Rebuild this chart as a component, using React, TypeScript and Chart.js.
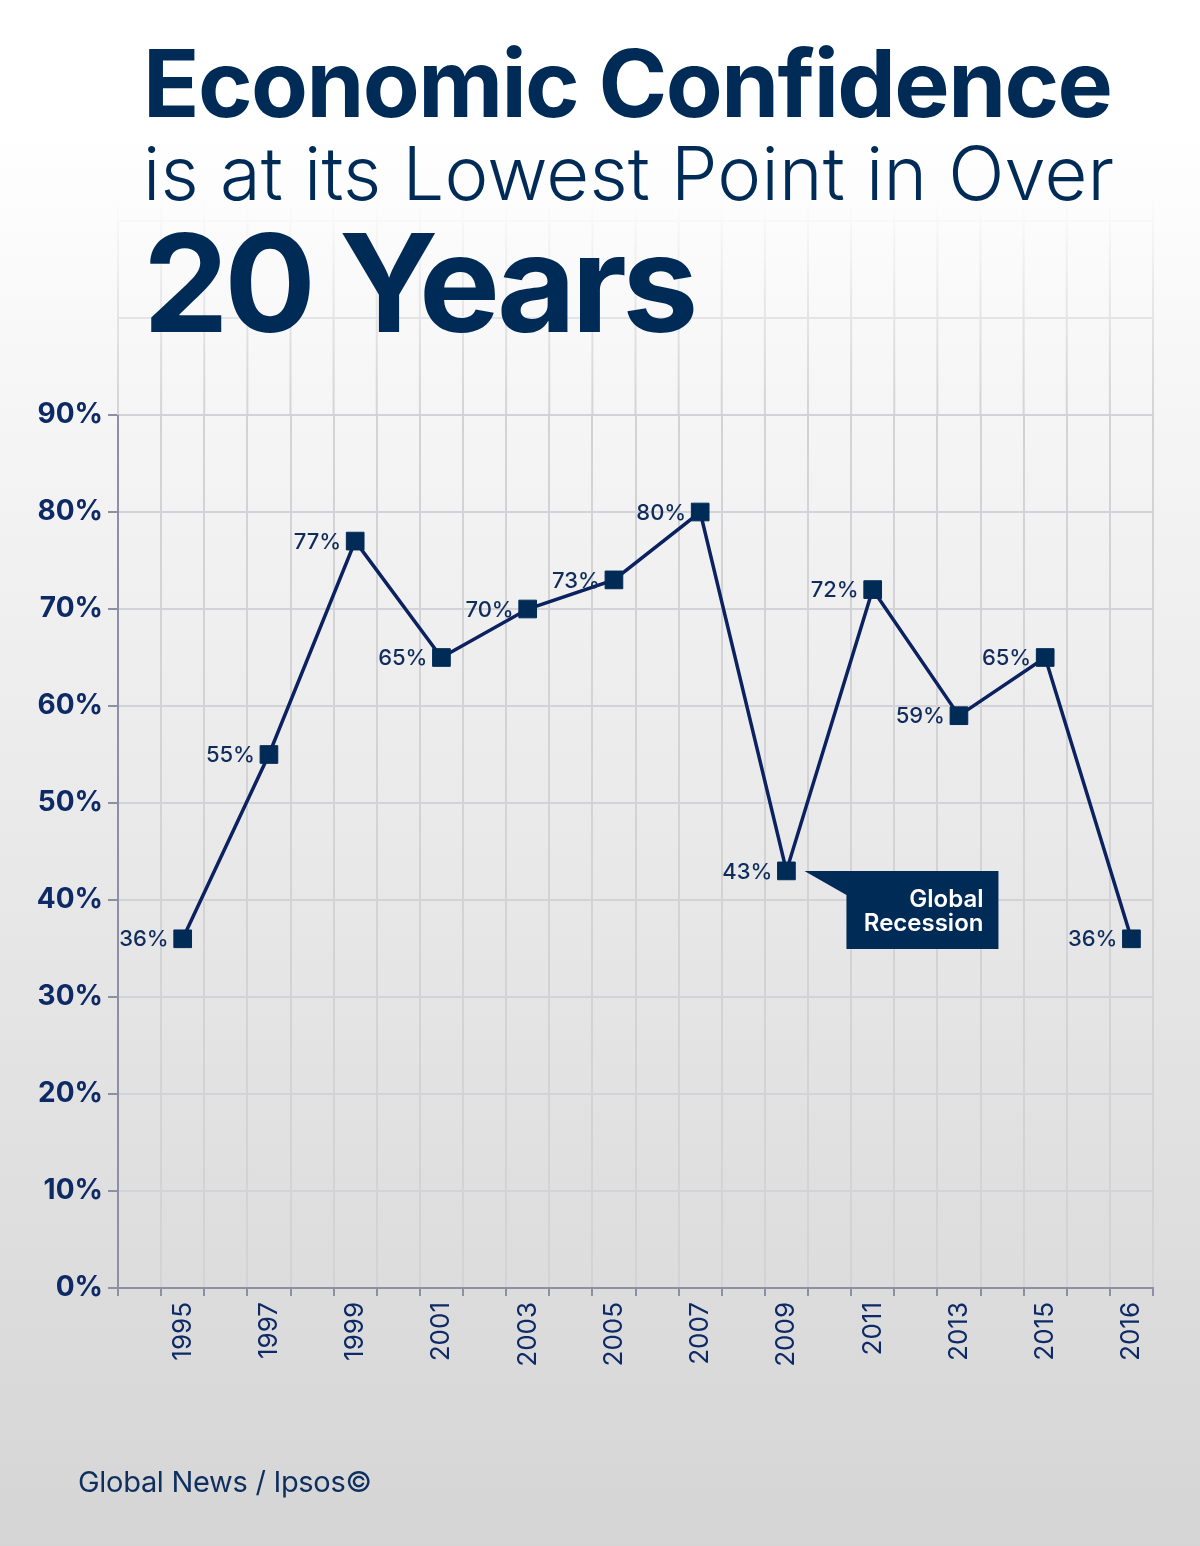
import { useEffect, useRef } from "react";
import { Chart, registerables } from "chart.js";

Chart.register(...registerables);

// Survey years (plotted evenly, one every two grid cells)
const years = ["1995", "1997", "1999", "2001", "2003", "2005", "2007", "2009", "2011", "2013", "2015", "2016"];
// Economic confidence, percent
const confidence = [36, 55, 77, 65, 70, 73, 80, 43, 72, 59, 65, 36];
// Y axis tick values
const yTicks = [0, 10, 20, 30, 40, 50, 60, 70, 80, 90];
// Faded grid rows drawn above the plot
const fadedRows = [100, 110];
const calloutYear = "2009";
const calloutLines = ["Global", "Recession"];

// every year sits in the second of two grid cells
const slotLabels = years.flatMap((y) => ["", y]);
const slotValues = confidence.flatMap((v) => [null, v]);

const NAVY = "#012b57";
const AXIS = "#8e8ea4";
const GRID = "#d3d3d7";

const fadedGridPlugin = {
  id: "fadedGrid",
  beforeDatasetsDraw(chart: any) {
    const { ctx, chartArea, scales } = chart;
    const { x, y } = scales;
    const top = y.getPixelForValue(fadedRows[fadedRows.length - 1]);
    const grad = ctx.createLinearGradient(0, top - 20, 0, chartArea.top);
    grad.addColorStop(0, "rgba(205,205,210,0)");
    grad.addColorStop(1, "rgba(205,205,210,0.85)");
    ctx.save();
    ctx.strokeStyle = grad;
    ctx.lineWidth = 2;
    ctx.beginPath();
    for (let i = 0; i <= slotLabels.length; i++) {
      const px = x.getPixelForValue(i - 0.5);
      ctx.moveTo(px, top - 20);
      ctx.lineTo(px, chartArea.top);
    }
    fadedRows.forEach((v) => {
      const py = y.getPixelForValue(v);
      ctx.moveTo(chartArea.left, py);
      ctx.lineTo(chartArea.right, py);
    });
    ctx.stroke();
    ctx.restore();
  },
};

const pointLabelPlugin = {
  id: "pointLabels",
  afterDatasetsDraw(chart: any) {
    const { ctx } = chart;
    const meta = chart.getDatasetMeta(0);
    ctx.save();
    ctx.fillStyle = "#0f2c5c";
    ctx.font = "500 22px Inter";
    ctx.textAlign = "right";
    ctx.textBaseline = "middle";
    meta.data.forEach((pt: any, i: number) => {
      const v = slotValues[i];
      if (v == null) return;
      ctx.fillText(`${v}%`, pt.x - 14, pt.y + 1);
    });
    ctx.restore();
  },
};

const calloutPlugin = {
  id: "callout",
  afterDatasetsDraw(chart: any) {
    const { ctx } = chart;
    const idx = slotLabels.indexOf(calloutYear);
    const pt = chart.getDatasetMeta(0).data[idx];
    if (!pt) return;
    const px = pt.x;
    const py = pt.y;
    ctx.save();
    ctx.fillStyle = NAVY;
    ctx.beginPath();
    ctx.moveTo(px + 18, py);
    ctx.lineTo(px + 212, py);
    ctx.lineTo(px + 212, py + 78);
    ctx.lineTo(px + 60, py + 78);
    ctx.lineTo(px + 60, py + 24);
    ctx.closePath();
    ctx.fill();
    ctx.fillStyle = "#ffffff";
    ctx.font = "600 24px Inter";
    ctx.textAlign = "right";
    ctx.textBaseline = "alphabetic";
    calloutLines.forEach((line, i) => {
      ctx.fillText(line, px + 197, py + 36 + i * 24);
    });
    ctx.restore();
  },
};

const EconomicConfidence = () => {
  const chartRef = useRef<HTMLCanvasElement>(null);
  const chartInstance = useRef<Chart | null>(null);

  useEffect(() => {
    if (!chartRef.current) return;
    if (chartInstance.current) chartInstance.current.destroy();

    chartInstance.current = new Chart(chartRef.current, {
      type: "line",
      data: {
        labels: slotLabels,
        datasets: [
          {
            data: slotValues,
            borderColor: "#0c2160",
            borderWidth: 3.5,
            tension: 0,
            spanGaps: true,
            pointStyle: "rect",
            pointRadius: 12.5,
            pointBorderWidth: 1,
            pointBackgroundColor: NAVY,
            pointBorderColor: NAVY,
          },
        ],
      },
      options: {
        responsive: false,
        animation: false,
        layout: { padding: { top: 415, right: 47, left: 0, bottom: 0 } },
        plugins: {
          legend: { display: false },
          tooltip: { enabled: false },
        },
        scales: {
          x: {
            type: "category",
            offset: true,
            grid: {
              offset: true,
              color: GRID,
              lineWidth: 2,
              tickLength: 8,
              tickColor: AXIS,
              tickWidth: 2,
            },
            border: { color: AXIS, width: 2 },
            ticks: {
              autoSkip: false,
              minRotation: 90,
              maxRotation: 90,
              padding: 6,
              color: "#0e2a66",
              font: { family: "Inter", size: 26 },
            },
            afterFit: (scale: any) => {
              scale.height = 258;
            },
          },
          y: {
            min: 0,
            max: 90,
            afterBuildTicks: (scale: any) => {
              scale.ticks = yTicks.map((value) => ({ value }));
            },
            ticks: {
              padding: 5,
              color: "#0e2a66",
              font: { family: "Inter", size: 28, weight: "bold" },
              callback: (value: any) => `${value}%`,
            },
            grid: {
              color: GRID,
              lineWidth: 2,
              tickLength: 10,
              tickColor: AXIS,
              tickWidth: 2,
            },
            border: { color: AXIS, width: 2 },
            afterFit: (scale: any) => {
              scale.width = 118;
            },
          },
        },
      },
      plugins: [fadedGridPlugin, pointLabelPlugin, calloutPlugin],
    });

    return () => {
      if (chartInstance.current) {
        chartInstance.current.destroy();
        chartInstance.current = null;
      }
    };
  }, []);

  const titleBase = {
    position: "absolute" as const,
    left: 143,
    margin: 0,
    lineHeight: 1,
    color: NAVY,
    fontFamily: "Inter",
    whiteSpace: "nowrap" as const,
    zIndex: 2,
  };

  return (
    <div
      style={{
        position: "absolute",
        left: 0,
        top: 0,
        width: 1200,
        height: 1546,
        overflow: "hidden",
        background: "linear-gradient(to bottom, #ffffff 8%, #f5f5f5 27%, #d5d5d5 100%)",
      }}
    >
      <canvas
        ref={chartRef}
        width={1200}
        height={1546}
        style={{ position: "absolute", left: 0, top: 0, zIndex: 1 }}
      ></canvas>
      <div style={{ ...titleBase, top: 37, fontSize: 93, fontWeight: 700, letterSpacing: -1.6 }}>
        Economic Confidence
      </div>
      <div style={{ ...titleBase, top: 136, fontSize: 74, fontWeight: 300, letterSpacing: 0.2 }}>
        is at its Lowest Point in Over
      </div>
      <div style={{ ...titleBase, top: 215, fontSize: 136, fontWeight: 700, letterSpacing: -4.5 }}>
        20 Years
      </div>
      <div
        style={{
          position: "absolute",
          left: 78,
          top: 1467,
          fontSize: 29,
          lineHeight: 1,
          fontFamily: "Inter",
          color: "#0e2f5e",
          letterSpacing: -0.3,
          zIndex: 2,
        }}
      >
        Global News / Ipsos©
      </div>
    </div>
  );
};

export default function App() {
  return <EconomicConfidence />;
}
